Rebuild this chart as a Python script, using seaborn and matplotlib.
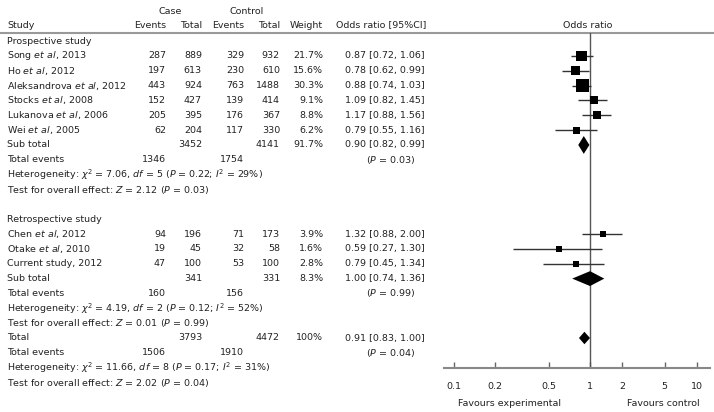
import numpy as np
import pandas as pd
import matplotlib
matplotlib.use("Agg")
import matplotlib.pyplot as plt
import seaborn as sns

# prospective studies
pro_study = [r"Song $et\ al$, 2013", r"Ho $et\ al$, 2012", r"Aleksandrova $et\ al$, 2012",
             r"Stocks $et\ al$, 2008", r"Lukanova $et\ al$, 2006", r"Wei $et\ al$, 2005"]
pro_case_events = [287, 197, 443, 152, 205, 62]
pro_case_total = [889, 613, 924, 427, 395, 204]
pro_ctrl_events = [329, 230, 763, 139, 176, 117]
pro_ctrl_total = [932, 610, 1488, 414, 367, 330]
pro_weight = [21.7, 15.6, 30.3, 9.1, 8.8, 6.2]
pro_or = [0.87, 0.78, 0.88, 1.09, 1.17, 0.79]
pro_lo = [0.72, 0.62, 0.74, 0.82, 0.88, 0.55]
pro_hi = [1.06, 0.99, 1.03, 1.45, 1.56, 1.16]

# retrospective studies
retro_study = [r"Chen $et\ al$, 2012", r"Otake $et\ al$, 2010", "Current study, 2012"]
retro_case_events = [94, 19, 47]
retro_case_total = [196, 45, 100]
retro_ctrl_events = [71, 32, 53]
retro_ctrl_total = [173, 58, 100]
retro_weight = [3.9, 1.6, 2.8]
retro_or = [1.32, 0.59, 0.79]
retro_lo = [0.88, 0.27, 0.45]
retro_hi = [2.00, 1.30, 1.34]

# pooled: prospective, retrospective, overall
pool_case_total = [3452, 341, 3793]
pool_ctrl_total = [4141, 331, 4472]
pool_case_events = [1346, 160, 1506]
pool_ctrl_events = [1754, 156, 1910]
pool_weight = [91.7, 8.3, 100]
pool_or = [0.90, 1.00, 0.91]
pool_lo = [0.82, 0.74, 0.83]
pool_hi = [0.99, 1.36, 1.00]
pool_p = ["0.03", "0.99", "0.04"]
het_chi2 = ["7.06", "4.19", "11.66"]
het_df = [5, 2, 8]
het_p = ["0.22", "0.12", "0.17"]
het_i2 = [29, 52, 31]
test_z = ["2.12", "0.01", "2.02"]

or_ticks = [0.1, 0.2, 0.5, 1, 2, 5, 10]
or_ticklabels = ["0.1", "0.2", "0.5", "1", "2", "5", "10"]

sns.set_theme(style="white")
plt.rcParams["font.family"] = ["DejaVu Sans"]
plt.rcParams["mathtext.fontset"] = "dejavusans"

FS = 6.8
TC = "#222222"
W, H = 714, 412

fig = plt.figure(figsize=(W / 100, H / 100), dpi=100)
ax = fig.add_axes([0, 0, 1, 1])
ax.set_xlim(0, W)
ax.set_ylim(H, 0)
ax.axis("off")

Y0, DY = 41, 14.85


def ry(r):
    return Y0 + DY * r


def txt(x, r, s, ha="right"):
    ax.text(x, ry(r), s, ha=ha, va="center", fontsize=FS, color=TC)


cols = {"ce": 166, "ct": 202, "ke": 244, "kt": 280, "w": 323, "or": 425}

# header
ax.text(170, 11, "Case", ha="center", va="center", fontsize=FS, color=TC)
ax.text(247, 11, "Control", ha="center", va="center", fontsize=FS, color=TC)
for x, s, ha in [(7, "Study", "left"), (cols["ce"], "Events", "right"), (cols["ct"], "Total", "right"),
                 (cols["ke"], "Events", "right"), (cols["kt"], "Total", "right"),
                 (cols["w"], "Weight", "right"), (336, "Odds ratio [95%CI]", "left"),
                 (588, "Odds ratio", "center")]:
    ax.text(x, 25, s, ha=ha, va="center", fontsize=FS, color=TC)
ax.plot([0, W], [33, 33], color="#999999", lw=1.5)


def fmt_or(o, l, h):
    return f"{o:.2f} [{l:.2f}, {h:.2f}]"


def study_rows(start, names, ce, ct, ke, kt, w, o, lo, hi):
    for i in range(len(names)):
        r = start + i
        txt(7, r, names[i], "left")
        txt(cols["ce"], r, str(ce[i]))
        txt(cols["ct"], r, str(ct[i]))
        txt(cols["ke"], r, str(ke[i]))
        txt(cols["kt"], r, str(kt[i]))
        txt(cols["w"], r, f"{w[i]:g}%")
        txt(cols["or"], r, fmt_or(o[i], lo[i], hi[i]))


def pooled_rows(start, k, label):
    txt(7, start, label, "left")
    txt(cols["ct"], start, str(pool_case_total[k]))
    txt(cols["kt"], start, str(pool_ctrl_total[k]))
    txt(cols["w"], start, f"{pool_weight[k]:g}%")
    txt(cols["or"], start, fmt_or(pool_or[k], pool_lo[k], pool_hi[k]))
    txt(7, start + 1, "Total events", "left")
    txt(cols["ce"], start + 1, str(pool_case_events[k]))
    txt(cols["ke"], start + 1, str(pool_ctrl_events[k]))
    ax.text(391, ry(start + 1), rf"($P$ = {pool_p[k]})", ha="center", va="center", fontsize=FS, color=TC)
    txt(7, start + 2, rf"Heterogeneity: $\chi^2$ = {het_chi2[k]}, $df$ = {het_df[k]} "
                      rf"($P$ = {het_p[k]}; $I^2$ = {het_i2[k]}%)", "left")
    txt(7, start + 3, rf"Test for overall effect: $Z$ = {test_z[k]} ($P$ = {pool_p[k]})", "left")


txt(7, 0, "Prospective study", "left")
study_rows(1, pro_study, pro_case_events, pro_case_total, pro_ctrl_events, pro_ctrl_total,
           pro_weight, pro_or, pro_lo, pro_hi)
pooled_rows(7, 0, "Sub total")
txt(7, 12, "Retrospective study", "left")
study_rows(13, retro_study, retro_case_events, retro_case_total, retro_ctrl_events, retro_ctrl_total,
           retro_weight, retro_or, retro_lo, retro_hi)
pooled_rows(16, 1, "Sub total")
pooled_rows(20, 2, "Total")

# forest panel, log axis stretched on the left side as in the reference
K = 136 / 107


def fwd(x):
    l = np.log10(np.clip(np.asarray(x, dtype=float), 1e-9, None))
    return np.where(l < 0, l * K, l)


def inv(y):
    y = np.asarray(y, dtype=float)
    return np.where(y < 0, 10 ** (y / K), 10 ** y)


top_px, bot_px, left_px, right_px = 33, 368, 444, 710
fax = fig.add_axes([left_px / W, (H - bot_px) / H, (right_px - left_px) / W, (bot_px - top_px) / H])
fax.patch.set_alpha(0)
fax.set_xscale("function", functions=(fwd, inv))
fax.set_xlim(inv(-146 / 107), inv(120 / 107))
fax.set_ylim((bot_px - Y0) / DY, (top_px - Y0) / DY)

df = pd.DataFrame({
    "row": list(range(1, 7)) + list(range(13, 16)),
    "or": pro_or + retro_or,
    "lo": pro_lo + retro_lo,
    "hi": pro_hi + retro_hi,
    "weight": pro_weight + retro_weight,
})
fax.hlines(df["row"], df["lo"], df["hi"], color="#333333", lw=1)
sns.scatterplot(data=df, x="or", y="row", size="weight", sizes=(16, 76), size_norm=(1.6, 30.3),
                marker="s", color="black", linewidth=0, legend=False, ax=fax, zorder=3)

for k, (r, hh) in enumerate([(7, 0.6), (16, 0.5), (20, 0.42)]):
    fax.fill([pool_lo[k], pool_or[k], pool_hi[k], pool_or[k]], [r, r - hh, r, r + hh],
             color="black", lw=0, zorder=3)

fax.axvline(1, color="#555555", lw=1, zorder=1)
for s in ["top", "left", "right"]:
    fax.spines[s].set_visible(False)
fax.spines["bottom"].set_color("#888888")
fax.spines["bottom"].set_linewidth(1.5)
fax.set_yticks([])
fax.set_xticks(or_ticks)
fax.set_xticklabels(or_ticklabels)
fax.xaxis.set_minor_locator(matplotlib.ticker.NullLocator())
fax.tick_params(axis="x", direction="in", length=4, width=1, color="#666666",
                labelsize=FS, labelcolor=TC, pad=10, bottom=True)
fax.set_xlabel("")
fax.set_ylabel("")

ax.text(510, 403, "Favours experimental", ha="center", va="center", fontsize=FS, color=TC)
ax.text(663, 403, "Favours control", ha="center", va="center", fontsize=FS, color=TC)

fig.savefig("out.png", dpi=100)
